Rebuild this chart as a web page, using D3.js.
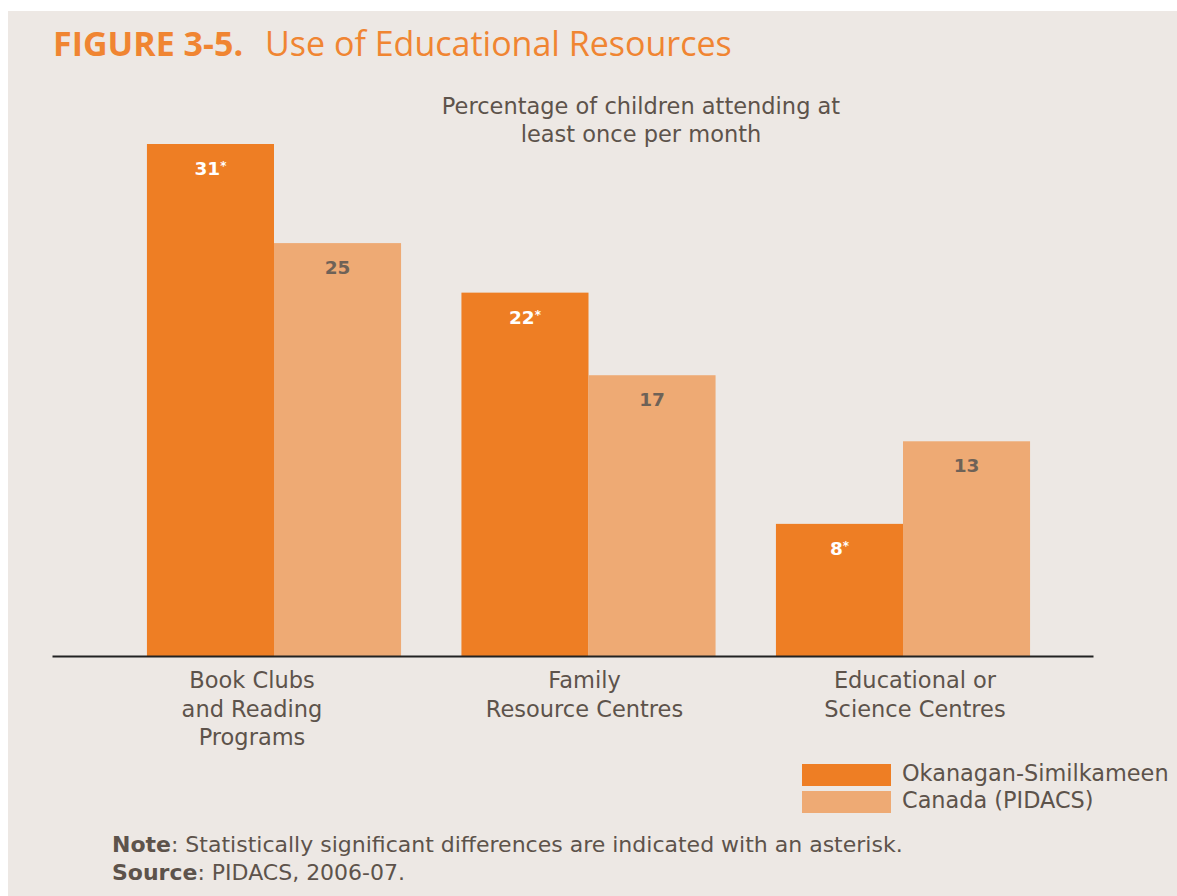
<!DOCTYPE html>
<html>
<head>
<meta charset="utf-8">
<script src="https://cdn.jsdelivr.net/npm/d3@7"></script>
<style>
  html, body { margin: 0; padding: 0; background: #ffffff; }
  svg { display: block; }
  text { font-family: "DejaVu Sans", "Open Sans", sans-serif; }
  .title { font-family: "Open Sans", "DejaVu Sans", sans-serif; }
</style>
</head>
<body>
<svg id="chart" width="1177" height="896"></svg>
<script>
// Use of educational resources: % of children attending at least once per month
const categories = [
  ["Book Clubs", "and Reading", "Programs"],
  ["Family", "Resource Centres"],
  ["Educational or", "Science Centres"]
];
const seriesNames = ["Okanagan-Similkameen", "Canada (PIDACS)"];
const okanagan = [31, 22, 8];
const canada = [25, 17, 13];
const significant = [true, true, true];   // asterisk on Okanagan values

const colours = ["#ee7e24", "#eeaa74"];
const labelColours = ["#ffffff", "#6e6257"];
const textColour = "#5d534b";

// horizontal nudge of each category label relative to its group centre
const labelShift = [-22, -4, 12];

const svg = d3.select("#chart");

// panel background
svg.append("rect").attr("x", 8).attr("y", 11).attr("width", 1169).attr("height", 885)
  .attr("fill", "#ede8e4");

// title
const title = svg.append("text").attr("class", "title").attr("x", 53).attr("y", 56)
  .attr("fill", "#f08532").style("font-size", "34px");
title.append("tspan").attr("font-weight", 700).text("FIGURE 3-5.");
title.append("tspan").attr("dx", 22).attr("font-weight", 400).text("Use of Educational Resources");

// subtitle
const sub = svg.append("text").attr("x", 641).attr("text-anchor", "middle")
  .attr("fill", textColour).style("font-size", "22.5px");
sub.append("tspan").attr("x", 641).attr("y", 114).text("Percentage of children attending at");
sub.append("tspan").attr("x", 641).attr("y", 142).text("least once per month");

// scales
const keys = categories.map((d, i) => i);
const x0 = d3.scaleBand().domain(keys).range([116.75, 1060.25])
  .paddingInner(0.192).paddingOuter(0.096);
const x1 = d3.scaleBand().domain([0, 1]).range([0, x0.bandwidth()]);
const y = d3.scaleLinear().domain([0, 31]).range([656, 144]);

const rows = keys.map(i => [okanagan[i], canada[i]]);

const groups = svg.append("g").selectAll("g").data(rows).join("g")
  .attr("transform", (d, i) => `translate(${x0(i)},0)`);

groups.selectAll("rect").data(d => d.map((v, s) => ({ v, s }))).join("rect")
  .attr("x", d => x1(d.s))
  .attr("width", x1.bandwidth())
  .attr("y", d => y(d.v))
  .attr("height", d => y(0) - y(d.v))
  .attr("fill", d => colours[d.s]);

// value labels inside top of bars
groups.each(function (row, gi) {
  const g = d3.select(this);
  row.forEach((v, s) => {
    const t = g.append("text")
      .attr("x", x1(s) + x1.bandwidth() / 2)
      .attr("y", y(v) + 31)
      .attr("text-anchor", "middle")
      .attr("fill", labelColours[s])
      .attr("font-weight", 700)
      .style("font-size", "18.5px");
    t.append("tspan").text(v);
    if (s === 0 && significant[gi]) {
      t.append("tspan").attr("dy", -5).style("font-size", "12px").text("*");
    }
  });
});

// baseline axis
const axis = d3.axisBottom(d3.scaleLinear().range([52, 1093])).ticks(0).tickSize(0).tickFormat("");
svg.append("g").attr("transform", `translate(0,${y(0)})`).call(axis)
  .call(g => g.select(".domain").attr("stroke", "#222").attr("stroke-width", 2));

// category labels
keys.forEach(i => {
  const cx = x0(i) + x0.bandwidth() / 2 + labelShift[i];
  const t = svg.append("text").attr("text-anchor", "middle")
    .attr("fill", textColour).style("font-size", "22.5px");
  categories[i].forEach((line, li) => {
    t.append("tspan").attr("x", cx).attr("y", 688 + li * 28.5).text(line);
  });
});

// legend
const legend = svg.append("g");
seriesNames.forEach((name, i) => {
  legend.append("rect").attr("x", 802).attr("y", 764 + i * 27)
    .attr("width", 89).attr("height", 22).attr("fill", colours[i]);
  legend.append("text").attr("x", 902).attr("y", 781 + i * 27)
    .attr("fill", textColour).style("font-size", "22.4px").text(name);
});

// note and source
const note = svg.append("text").attr("x", 112).attr("y", 852)
  .attr("fill", textColour).style("font-size", "22px");
note.append("tspan").attr("font-weight", 700).text("Note");
note.append("tspan").text(": Statistically significant differences are indicated with an asterisk.");
const src = svg.append("text").attr("x", 112).attr("y", 880)
  .attr("fill", textColour).style("font-size", "22px");
src.append("tspan").attr("font-weight", 700).text("Source");
src.append("tspan").text(": PIDACS, 2006-07.");
</script>
</body>
</html>
